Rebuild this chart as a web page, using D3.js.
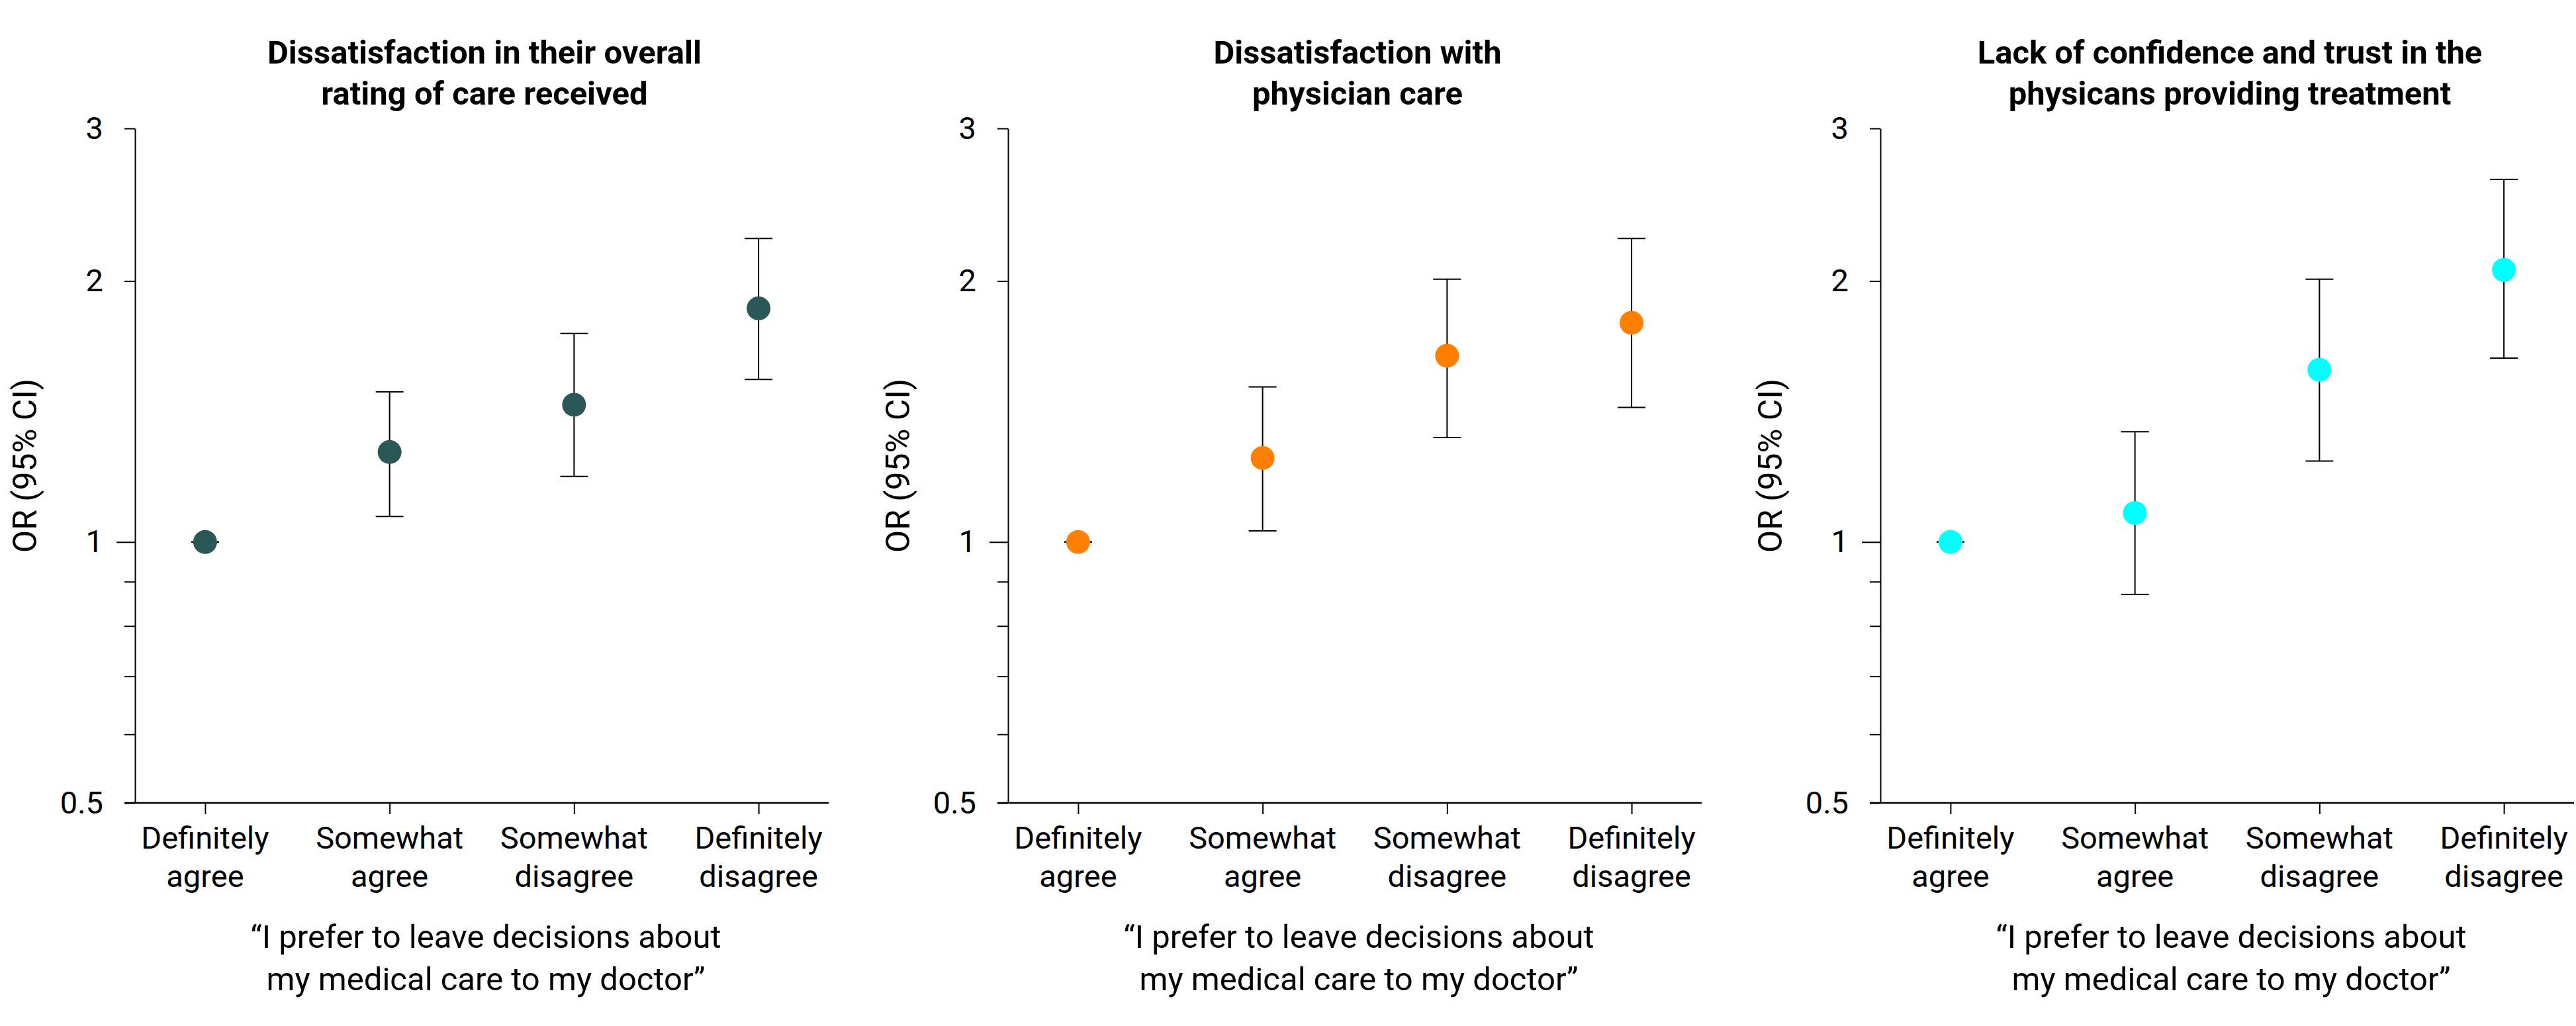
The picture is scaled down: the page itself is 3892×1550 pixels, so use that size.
<!DOCTYPE html>
<html>
<head>
<meta charset="utf-8">
<script src="https://cdn.jsdelivr.net/npm/d3@7"></script>
<style>
  html, body { margin: 0; padding: 0; background: #fff; }
  svg { display: block; }
  text { font-family: Roboto, "Open Sans", sans-serif; fill: #000; }
</style>
</head>
<body>
<svg id="chart" width="3892" height="1550"></svg>
<script>
// ---- data ----
const categories = ["Definitely agree", "Somewhat agree", "Somewhat disagree", "Definitely disagree"];
const categoryLines = [["Definitely", "agree"], ["Somewhat", "agree"], ["Somewhat", "disagree"], ["Definitely", "disagree"]];

const panelTitles = [
  ["Dissatisfaction in their overall", "rating of care received"],
  ["Dissatisfaction with", "physician care"],
  ["Lack of confidence and trust in the", "physicans providing treatment"]
];
const xTitleLines = ["\u201CI prefer to leave decisions about", "my medical care to my doctor\u201D"];
const yTitle = "OR (95% CI)";

const orOverall = [1, 1.27, 1.44, 1.86];
const loOverall = [1, 1.07, 1.19, 1.54];
const hiOverall = [1, 1.49, 1.74, 2.24];

const orPhysician = [1, 1.25, 1.64, 1.79];
const loPhysician = [1, 1.03, 1.32, 1.43];
const hiPhysician = [1, 1.51, 2.01, 2.24];

const orTrust = [1, 1.08, 1.58, 2.06];
const loTrust = [1, 0.87, 1.24, 1.63];
const hiTrust = [1, 1.34, 2.01, 2.62];

const panelColors = ["#2b5757", "#ff8000", "#00ffff"];
const yMajorTicks = [0.5, 1, 2, 3];
const yMinorTicks = [0.6, 0.7, 0.8, 0.9];
const yDomain = [0.5, 3];

const panels = [
  { title: panelTitles[0], or: orOverall, lo: loOverall, hi: hiOverall, color: panelColors[0] },
  { title: panelTitles[1], or: orPhysician, lo: loPhysician, hi: hiPhysician, color: panelColors[1] },
  { title: panelTitles[2], or: orTrust, lo: loTrust, hi: hiTrust, color: panelColors[2] }
];

// ---- layout ----
const svg = d3.select("#chart");
const panelLeft = [204, 1523, 2841];
const plotW = 1048;
const plotTop = 194, plotBottom = 1213;

const y = d3.scaleLog().domain(yDomain).range([plotBottom, plotTop]);

panels.forEach((p, i) => {
  const x0 = panelLeft[i];
  const g = svg.append("g");
  const x = d3.scalePoint().domain(categories).range([x0, x0 + plotW]).padding(0.38);
  const cx = x0 + plotW / 2;

  // title
  const t = g.append("text")
    .attr("text-anchor", "middle")
    .style("font-size", "49px").style("font-weight", "700");
  p.title.forEach((line, k) => {
    t.append("tspan").attr("x", cx + 4).attr("y", 96 + k * 62).text(line);
  });

  // y axis
  const yAxis = d3.axisLeft(y)
    .tickValues(yMajorTicks.concat(yMinorTicks))
    .tickSize(16).tickSizeOuter(0).tickPadding(32)
    .tickFormat(d => yMajorTicks.includes(d) ? String(d) : "");
  const ga = g.append("g").attr("transform", `translate(${x0},0)`).call(yAxis);
  ga.select(".domain").attr("stroke", "#000").attr("stroke-width", 2);
  ga.selectAll(".tick line").attr("stroke", "#000").attr("stroke-width", 2);
  ga.selectAll(".tick line").filter(d => d === 1).attr("x2", -28);
  ga.selectAll(".tick text").style("font-size", "47px").style("font-family", "Roboto, sans-serif").attr("fill", "#000");

  // x axis
  const xAxis = d3.axisBottom(x).tickSize(17).tickSizeOuter(0).tickFormat("");
  const gx = g.append("g").attr("transform", `translate(0,${plotBottom})`).call(xAxis);
  gx.select(".domain").attr("d", `M${x0 - 16},0H${x0 + plotW}`).attr("stroke", "#000").attr("stroke-width", 2.5);
  gx.selectAll(".tick line").attr("stroke", "#000").attr("stroke-width", 2);

  // category labels
  categories.forEach((c, j) => {
    const lt = g.append("text").attr("text-anchor", "middle").style("font-size", "47px");
    categoryLines[j].forEach((line, k) => {
      lt.append("tspan").attr("x", x(c)).attr("y", 1282 + k * 58).text(line);
    });
  });

  // x title
  const xt = g.append("text").attr("text-anchor", "middle").style("font-size", "49px");
  xTitleLines.forEach((line, k) => {
    xt.append("tspan").attr("x", x0 + 530).attr("y", 1432 + k * 64).text(line);
  });

  // y title
  g.append("text")
    .attr("transform", `translate(${x0 - 149},${(plotTop + plotBottom) / 2}) rotate(-90)`)
    .attr("text-anchor", "middle")
    .style("font-size", "50px")
    .text(yTitle);

  // error bars
  const capHalf = 21;
  const eb = g.append("g").attr("stroke", "#000").attr("stroke-width", 2).attr("fill", "none");
  categories.forEach((c, j) => {
    const xx = x(c);
    eb.append("line").attr("x1", xx).attr("x2", xx).attr("y1", y(p.lo[j])).attr("y2", y(p.hi[j]));
    eb.append("line").attr("x1", xx - capHalf).attr("x2", xx + capHalf).attr("y1", y(p.hi[j])).attr("y2", y(p.hi[j]));
    eb.append("line").attr("x1", xx - capHalf).attr("x2", xx + capHalf).attr("y1", y(p.lo[j])).attr("y2", y(p.lo[j]));
  });

  // points
  g.append("g").selectAll("circle").data(categories).join("circle")
    .attr("cx", c => x(c))
    .attr("cy", (c, j) => y(p.or[j]))
    .attr("r", 18)
    .attr("fill", p.color);
});
</script>
</body>
</html>
